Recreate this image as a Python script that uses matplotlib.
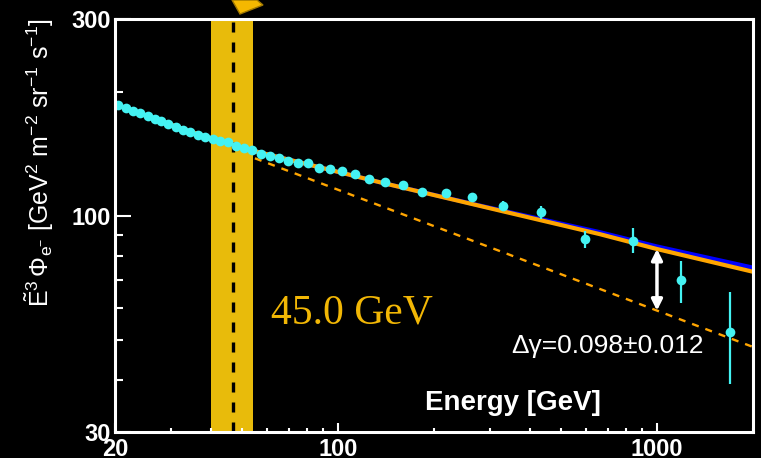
import matplotlib
matplotlib.use("Agg")
import matplotlib.pyplot as plt
import numpy as np
from matplotlib.patches import Polygon
from matplotlib.ticker import FixedLocator, NullFormatter

plt.rcParams['font.family'] = ['Liberation Sans', 'DejaVu Sans']
plt.rcParams['mathtext.fontset'] = 'custom'
plt.rcParams['mathtext.rm'] = 'Liberation Sans'
plt.rcParams['mathtext.it'] = 'Liberation Sans'
plt.rcParams['mathtext.bf'] = 'Liberation Sans:bold'

# ---- data ----
energy = [20.48, 21.65, 22.82, 24.01, 25.32, 26.62, 27.94, 29.38, 31.0, 32.68,
          34.44, 36.32, 38.38, 40.58, 42.78, 45.22, 47.78, 50.74, 53.87, 57.38,
          61.08, 65.32, 69.70, 74.76, 80.36, 86.98, 94.42, 103.2, 113.1, 125.4,
          140.7, 159.5, 183.8, 218.0, 263.8, 329.2, 432.0, 595.0, 843.0, 1192.0, 1690.0]
flux = [185.8, 182.4, 180.0, 177.7, 174.4, 171.5, 169.6, 167.1, 164.0, 161.6,
        159.8, 157.1, 155.4, 153.6, 151.9, 150.8, 148.0, 146.4, 144.5, 141.3,
        140.0, 138.5, 135.7, 134.2, 134.4, 130.7, 129.8, 128.3, 126.2, 122.8,
        120.9, 119.1, 114.2, 113.5, 111.4, 105.8, 102.1, 88.0, 87.0, 70.0, 52.4]
err_lo = [0.5] * 30 + [0.8, 1.0, 1.2, 1.5, 2.0, 2.7, 3.5, 4.1, 5.8, 8.3, 13.2]
err_hi = [0.5] * 30 + [0.8, 1.0, 1.2, 1.5, 2.0, 2.7, 3.5, 4.1, 6.3, 7.9, 13.2]

fit_E = [20, 35, 53, 135.5, 279, 662, 1000, 2000]
fit_orange = [186.5, 159.5, 144.5, 120.7, 105.8, 90.4, 83.2, 73.3]
fit_blue = [186.5, 159.5, 144.5, 120.7, 106.0, 91.4, 84.4, 75.0]

extrap_E = [54.9, 2000]
extrap_V = [138.0, 48.2]

band_lo, band_hi = 40.0, 54.0
break_E = 46.8
arrow_E = 1000.0

label_break = "45.0 GeV"
label_dgamma = "Δγ=0.098±0.012"

x_major = [20, 100, 1000]
x_minor = [30, 40, 50, 60, 70, 80, 90, 200, 300, 400, 500, 600, 700, 800, 900, 2000]
y_major = [30, 100, 300]
y_minor = [40, 50, 60, 70, 80, 90, 200]

# ---- figure ----
W, H = 761, 458
fig = plt.figure(figsize=(W / 100, H / 100), dpi=100, facecolor='black')
ax = fig.add_axes([115 / W, 1 - 432 / H, (753 - 115) / W, (432 - 19) / H])
ax.set_facecolor('black')
ax.set_xscale('log')
ax.set_yscale('log')
ax.set_xlim(20, 2000)
ax.set_ylim(30, 300)

ax.axvspan(band_lo, band_hi, color='#e8bb0b', lw=0, zorder=1)
ax.axvline(break_E, color='black', lw=2.4, ls=(0, (3.0, 3.0)), zorder=2)

ax.plot(fit_E, fit_blue, color='#0000ff', lw=3.0, zorder=3, solid_capstyle='butt')
ax.plot(fit_E, fit_orange, color='#ffa500', lw=3.0, zorder=4, solid_capstyle='butt')
ax.plot(extrap_E, extrap_V, color='#ffa500', lw=1.7, ls=(0, (3, 3)), zorder=4)

ax.errorbar(energy, flux, yerr=[err_lo, err_hi], fmt='o', color='#44f2f2',
            ms=7, mec='none', elinewidth=1.6, capsize=0, zorder=6)

# double arrow between the fit and the extrapolation
lx = np.log10(arrow_E)
y_top = 10 ** np.interp(lx, np.log10(fit_E), np.log10(fit_orange))
y_bot = 10 ** np.interp(lx, np.log10(extrap_E), np.log10(extrap_V))
ax.annotate('', xy=(arrow_E, y_bot), xytext=(arrow_E, y_top),
            arrowprops=dict(arrowstyle='<|-|>', color='white', lw=2.5,
                            mutation_scale=16, shrinkA=0, shrinkB=0), zorder=7)

ax.text((271 - 115) / 638, (432 - 323) / 413, label_break, transform=ax.transAxes,
        color='#f2b705', fontsize=30, family='Liberation Serif', ha='left', va='baseline')
ax.text((511 - 115) / 638, (432 - 353) / 413, label_dgamma, transform=ax.transAxes,
        color='white', fontsize=19, ha='left', va='baseline')
ax.text((425 - 115) / 638, (432 - 410) / 413, 'Energy [GeV]', transform=ax.transAxes,
        color='white', fontsize=20, fontweight='bold', ha='left', va='baseline')

ax.set_ylabel(r'$\tilde{\mathrm{E}}^{3}\,\Phi_{\mathrm{e}^{-}}$ [GeV$^{2}$ m$^{-2}$ sr$^{-1}$ s$^{-1}$]',
              color='white', fontsize=18)
ax.yaxis.set_label_coords((56 - 115) / 638, (432 - 163) / 413)

ax.xaxis.set_major_locator(FixedLocator(x_major))
ax.xaxis.set_minor_locator(FixedLocator(x_minor))
ax.yaxis.set_major_locator(FixedLocator(y_major))
ax.yaxis.set_minor_locator(FixedLocator(y_minor))
ax.set_xticklabels([str(v) for v in x_major])
ax.set_yticklabels([str(v) for v in y_major])
ax.xaxis.set_minor_formatter(NullFormatter())
ax.yaxis.set_minor_formatter(NullFormatter())

ax.tick_params(axis='x', which='major', direction='in', length=6.5, width=1.5, color='white',
               labelcolor='white', labelsize=17, pad=4)
ax.tick_params(axis='x', which='minor', direction='in', length=3, width=1.5, color='white')
ax.tick_params(axis='y', which='major', direction='in', length=11.5, width=1.5, color='white',
               labelcolor='white', labelsize=17, pad=3)
ax.tick_params(axis='y', which='minor', direction='in', length=6, width=1.5, color='white')
for lab in ax.get_xticklabels() + ax.get_yticklabels():
    lab.set_fontweight('bold')

for s in ax.spines.values():
    s.set_color('white')
    s.set_linewidth(2.2)
    s.set_zorder(8)

# partial arrow marker above the plot
pts = [(232, 0), (240, 14), (263, 5), (257, 0)]
poly = Polygon([(x / W, 1 - y / H) for x, y in pts], closed=True,
               transform=fig.transFigure, facecolor='#f5b800', edgecolor='#a07800',
               lw=1.0, clip_on=False)
fig.patches.append(poly)

fig.savefig('out.png', dpi=100, facecolor='black')
